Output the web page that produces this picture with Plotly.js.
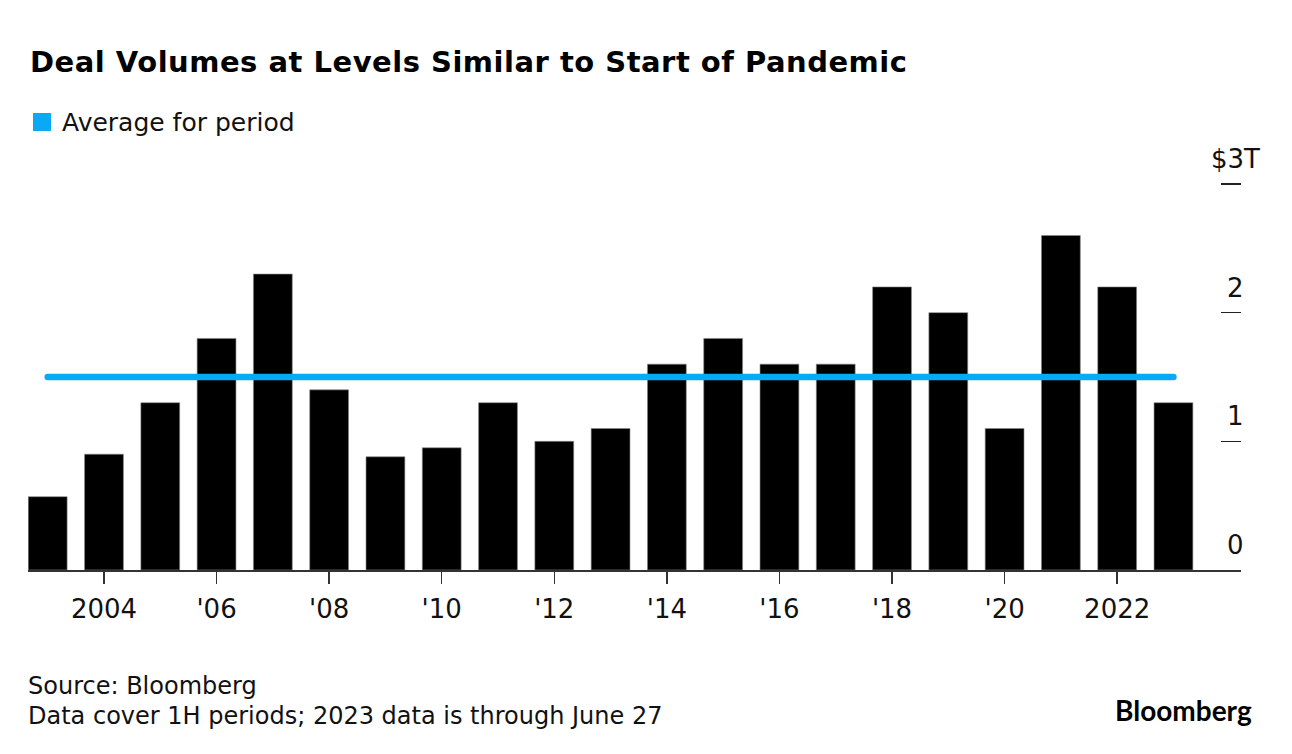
<!DOCTYPE html>
<html>
<head>
<meta charset="utf-8">
<script src="https://cdn.plot.ly/plotly-3.0.1.min.js"></script>
<style>
  html, body { margin: 0; padding: 0; background: #ffffff; }
  #chart { width: 1292px; height: 754px; }
  #chart .gtitle { letter-spacing: 0.5px; }
  #chart .scatterlayer .js-line { stroke-linecap: round; }
</style>
</head>
<body>
<div id="chart"></div>
<script>
// ---- Data ----
const years = [2003, 2004, 2005, 2006, 2007, 2008, 2009, 2010, 2011, 2012, 2013,
               2014, 2015, 2016, 2017, 2018, 2019, 2020, 2021, 2022, 2023];
const dealVolumes = [0.57, 0.90, 1.30, 1.80, 2.30, 1.40, 0.88, 0.95, 1.30, 1.00, 1.10,
                     1.60, 1.80, 1.60, 1.60, 2.20, 2.00, 1.10, 2.60, 2.20, 1.30];
const avgYears = [2003, 2023];
const avgValues = [1.5, 1.5];

const xTickVals = [2004, 2006, 2008, 2010, 2012, 2014, 2016, 2018, 2020, 2022];
const xTickText = ["2004", "'06", "'08", "'10", "'12", "'14", "'16", "'18", "'20", "2022"];
const yTickVals = [0, 1, 2, 3];
const yTickText = ["0", "1", "2", "$3T"];

const FONT = "DejaVu Sans, Liberation Sans, sans-serif";
const INK = "#111111";
const BLUE = "#0aa9f5";

// plot area in pixels: x 28..1241, y 180..570 (value 3 sits at y=184)
const PL = 28, PR = 1241, PT = 180, PB = 570;
const PW = PR - PL, PH = PB - PT;
const PX_PER_UNIT = (570 - 184) / 3;
const px = x => (x - PL) / PW;
const py = y => (PB - y) / PH;

const traces = [
  {
    type: "bar",
    x: years,
    y: dealVolumes,
    width: 0.69,
    marker: { color: "#000000", line: { color: "#8a8a8a", width: 0.6 } },
    hoverinfo: "x+y",
    showlegend: false
  },
  {
    type: "scatter",
    mode: "lines",
    x: avgYears,
    y: avgValues,
    line: { color: BLUE, width: 6.5 },
    name: "Average for period",
    showlegend: false
  }
];

const yLabelAnnotations = yTickVals.map((v, i) => ({
  xref: "paper", yref: "y",
  x: px(1235), y: v,
  xanchor: "center", yanchor: "middle",
  yshift: 25,
  text: yTickText[i],
  showarrow: false,
  font: { family: FONT, size: 26, color: INK }
}));

const layout = {
  width: 1292,
  height: 754,
  paper_bgcolor: "#ffffff",
  plot_bgcolor: "#ffffff",
  margin: { l: PL, r: 1292 - PR, t: PT, b: 754 - PB, pad: 0 },
  title: {
    text: "<b>Deal Volumes at Levels Similar to Start of Pandemic</b>",
    font: { family: FONT, size: 29, color: "#000000" },
    x: 30 / 1292, xref: "container", xanchor: "left",
    y: 1 - 62 / 754, yref: "container", yanchor: "middle"
  },
  showlegend: false,
  xaxis: {
    range: [2002.65, 2024.2],
    tickmode: "array",
    tickvals: xTickVals,
    ticktext: xTickText,
    ticks: "outside",
    ticklen: 12,
    tickwidth: 1.5,
    tickcolor: "#333333",
    showline: true,
    linecolor: "#333333",
    linewidth: 1.5,
    showgrid: false,
    zeroline: false,
    tickfont: { family: FONT, size: 26, color: INK },
    ticklabelstandoff: 3,
    fixedrange: true
  },
  yaxis: {
    range: [0, PH / PX_PER_UNIT],
    side: "right",
    tickmode: "array",
    tickvals: yTickVals,
    ticks: "inside",
    ticklen: 20,
    tickwidth: 1.5,
    tickcolor: "#222222",
    showticklabels: false,
    showline: false,
    showgrid: false,
    zeroline: false,
    fixedrange: true
  },
  shapes: [
    {
      type: "rect", xref: "paper", yref: "paper",
      x0: px(33), x1: px(51),
      y0: py(131), y1: py(113),
      fillcolor: BLUE, line: { width: 0 }
    }
  ],
  annotations: [
    {
      xref: "paper", yref: "paper",
      x: px(60), y: py(122),
      xanchor: "left", yanchor: "middle",
      text: "Average for period",
      showarrow: false,
      font: { family: FONT, size: 25, color: INK }
    },
    ...yLabelAnnotations,
    {
      xref: "paper", yref: "paper",
      x: px(26), y: py(686),
      xanchor: "left", yanchor: "middle",
      text: "Source: Bloomberg",
      showarrow: false,
      font: { family: FONT, size: 24, color: INK }
    },
    {
      xref: "paper", yref: "paper",
      x: px(26), y: py(716),
      xanchor: "left", yanchor: "middle",
      text: "Data cover 1H periods; 2023 data is through June 27",
      showarrow: false,
      font: { family: FONT, size: 24, color: INK }
    },
    {
      xref: "paper", yref: "paper",
      x: px(1254), y: py(710),
      xanchor: "right", yanchor: "middle",
      text: "<b>Bloomberg</b>",
      showarrow: false,
      font: { family: "Lato, Liberation Sans, sans-serif", size: 28, color: "#000000" }
    }
  ]
};

Plotly.newPlot("chart", traces, layout, { displayModeBar: false, staticPlot: true });
</script>
</body>
</html>
